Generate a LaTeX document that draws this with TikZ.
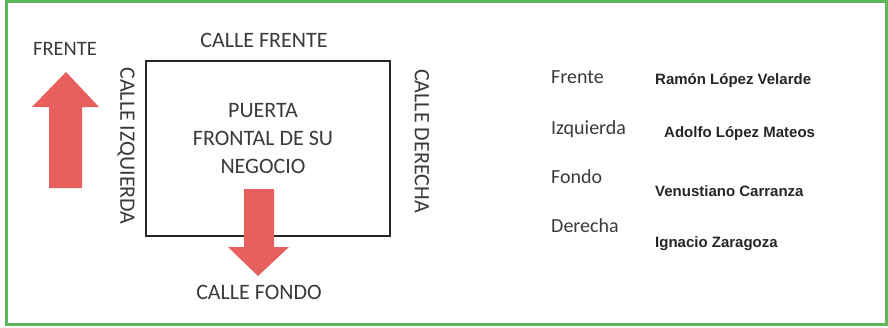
\documentclass[tikz,border=0pt]{standalone}
\usepackage{fontspec}
\setmainfont{Carlito}
\newfontfamily\arialf{Liberation Sans}
\definecolor{frame}{HTML}{5DB85C}
\definecolor{arrowred}{HTML}{E8605E}
\definecolor{txt}{HTML}{3A3A3A}
\begin{document}
\begin{tikzpicture}[x=1pt,y=-1pt,
  lbl/.style={font=\fontsize{22}{26}\selectfont, text=txt, inner sep=0pt},
  side/.style={font=\fontsize{20}{24}\selectfont, text=txt, inner sep=0pt, anchor=west},
  street/.style={font=\arialf\bfseries\fontsize{15}{18}\selectfont, text=black!85, inner sep=0pt, anchor=west},
  bigarrow/.style={fill=arrowred, draw=none}]
\useasboundingbox (0,0) rectangle (888,327);
\fill[white] (0,0) rectangle (888,327);
\draw[frame, line width=3pt] (6,1) rectangle (886,324);
% up arrow
\fill[bigarrow] (49,188) -- (49,107) -- (32,107) -- (66,72) -- (99,107) -- (82,107) -- (82,188) -- cycle;
\node[lbl, font=\fontsize{20.5}{24}\selectfont] (frente) at (65,49) {FRENTE};
% lot
\draw[black!85, line width=1.3pt] (146,61) rectangle (390,236);
\node[lbl] (cfrente) at (264,40) {CALLE FRENTE};
\node[lbl, rotate=-90] (cizq) at (126,146) {CALLE IZQUIERDA};
\node[lbl, rotate=-90] (cder) at (422,141) {CALLE DERECHA};
\node[lbl, align=center, font=\fontsize{22}{28}\selectfont] (puerta) at (263,139) {PUERTA\\FRONTAL DE SU\\NEGOCIO};
% down arrow
\fill[bigarrow] (244,189) -- (274,189) -- (274,247) -- (289,247) -- (258,276) -- (228,247) -- (244,247) -- cycle;
\node[lbl] (cfondo) at (259,292) {CALLE FONDO};
% list
\node[side] (l1) at (551,77) {Frente};
\node[side] (l2) at (551,129) {Izquierda};
\node[side] (l3) at (551,177) {Fondo};
\node[side] (l4) at (551,226) {Derecha};
\node[street] (s1) at (655,81) {Ramón López Velarde};
\node[street] (s2) at (664,134) {Adolfo López Mateos};
\node[street] (s3) at (655,191) {Venustiano Carranza};
\node[street] (s4) at (655,244) {Ignacio Zaragoza};
\end{tikzpicture}
\end{document}
